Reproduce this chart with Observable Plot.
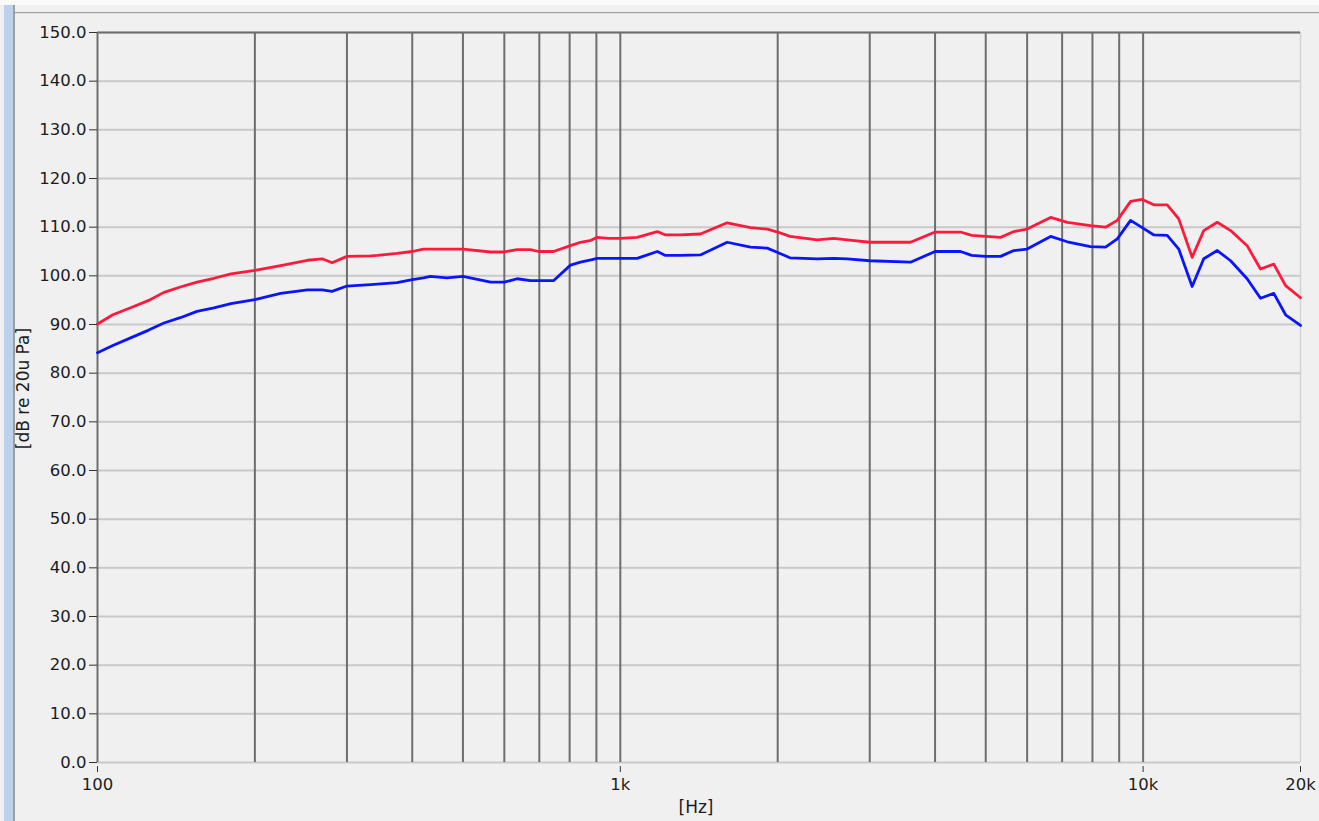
<!DOCTYPE html>
<html>
<head>
<meta charset="utf-8">
<script src="https://cdn.jsdelivr.net/npm/d3@7"></script>
<script src="https://cdn.jsdelivr.net/npm/@observablehq/plot@0.6"></script>
<style>
  html, body { margin: 0; padding: 0; background: #f0f0f0; overflow: hidden; }
  #wrap { position: relative; width: 1319px; height: 821px; }
  #topstrip { position: absolute; left: 0; top: 0; width: 1319px; height: 5px; background: #f9f9f9; }
  #topline { position: absolute; left: 14px; top: 12px; width: 1305px; height: 1px; background: #a3a3a3; border-bottom: 1px solid #dedede; }
  #leftstrip { position: absolute; left: 4px; top: 5px; width: 9px; height: 816px; background: #bcd2ec; }
  #leftline { position: absolute; left: 13px; top: 5px; width: 2px; height: 816px; background: #9e9e9e; }
  #chart { position: absolute; left: 0; top: 0; }
</style>
</head>
<body>
<div id="wrap">
  <div id="topstrip"></div>
  <div id="topline"></div>
  <div id="leftstrip"></div>
  <div id="leftline"></div>
  <div id="chart"></div>
</div>
<script>
// Frequencies (Hz) at which the two curves were read
const freq = [100, 107, 116, 125, 134, 144, 155, 167, 180, 200, 224, 252, 269, 281, 300, 333, 343, 374, 400, 420, 433, 466, 500, 565, 600, 635, 673, 698, 745, 803, 839, 879, 903, 950, 1000, 1077, 1177, 1220, 1300, 1423, 1601, 1774, 1910, 2000, 2111, 2381, 2560, 2716, 3000, 3590, 4000, 4474, 4700, 5000, 5338, 5659, 6000, 6653, 7160, 7930, 8474, 8925, 9463, 9960, 10484, 11120, 11700, 12410, 13060, 13860, 14700, 15810, 16770, 17780, 18730, 20000];

// Red curve (dB re 20u Pa)
const redLevel = [90.1, 92.0, 93.5, 94.9, 96.6, 97.7, 98.7, 99.5, 100.4, 101.1, 102.1, 103.2, 103.5, 102.7, 104.0, 104.1, 104.2, 104.6, 105.0, 105.5, 105.5, 105.5, 105.5, 104.9, 104.9, 105.4, 105.4, 105.0, 105.0, 106.2, 106.9, 107.3, 107.9, 107.7, 107.7, 107.9, 109.1, 108.4, 108.4, 108.6, 110.9, 109.9, 109.6, 109.0, 108.1, 107.4, 107.7, 107.4, 106.9, 106.9, 109.0, 109.0, 108.3, 108.1, 107.9, 109.1, 109.6, 112.0, 111.0, 110.3, 110.0, 111.4, 115.3, 115.7, 114.6, 114.6, 111.7, 103.8, 109.3, 111.0, 109.3, 106.2, 101.4, 102.4, 98.0, 95.5];

// Blue curve (dB re 20u Pa)
const blueLevel = [84.2, 85.7, 87.3, 88.8, 90.3, 91.4, 92.7, 93.4, 94.3, 95.1, 96.4, 97.1, 97.1, 96.8, 97.9, 98.2, 98.3, 98.6, 99.2, 99.6, 99.9, 99.6, 99.9, 98.7, 98.7, 99.4, 99.0, 99.0, 99.0, 102.2, 102.8, 103.3, 103.6, 103.6, 103.6, 103.6, 105.0, 104.2, 104.2, 104.3, 106.9, 105.9, 105.7, 104.8, 103.7, 103.5, 103.6, 103.5, 103.1, 102.8, 105.0, 105.0, 104.2, 104.0, 104.0, 105.2, 105.5, 108.1, 107.0, 106.0, 105.9, 107.6, 111.4, 109.9, 108.4, 108.3, 105.5, 97.8, 103.5, 105.2, 103.1, 99.4, 95.4, 96.4, 92.0, 89.8];

// Axis ticks and grid
const yTicks = [0, 10, 20, 30, 40, 50, 60, 70, 80, 90, 100, 110, 120, 130, 140, 150];
const xTicks = [100, 1000, 10000, 20000];
const xTickLabels = ["100", "1k", "10k", "20k"];
const xGrid = [200, 300, 400, 500, 600, 700, 800, 900, 1000, 2000, 3000, 4000, 5000, 6000, 7000, 8000, 9000, 10000];
const yLabel = "[dB re 20u Pa]";
const xLabel = "[Hz]";

const redData = freq.map((f, i) => ({f, v: redLevel[i]}));
const blueData = freq.map((f, i) => ({f, v: blueLevel[i]}));

const chart = Plot.plot({
  width: 1319,
  height: 821,
  marginLeft: 97,
  marginRight: 19,
  marginTop: 32,
  marginBottom: 59,
  style: {background: "transparent", fontFamily: "'DejaVu Sans', Tahoma, sans-serif", fontSize: "16.5px", color: "#1c1c1c"},
  x: {type: "log", domain: [100, 20000]},
  y: {domain: [0, 150]},
  marks: [
    Plot.ruleY(yTicks, {stroke: "#c9c9c9", strokeWidth: 2}),
    Plot.ruleX([20000], {stroke: "#d2d2d2", strokeWidth: 1.5}),
    Plot.ruleX(xGrid, {stroke: "#6e6e6e", strokeWidth: 2}),
    Plot.ruleY([150], {stroke: "#6e6e6e", strokeWidth: 2}),
    Plot.ruleX([100], {stroke: "#6e6e6e", strokeWidth: 2}),
    Plot.line(blueData, {x: "f", y: "v", stroke: "#0a14ff", strokeWidth: 2.8}),
    Plot.line(redData, {x: "f", y: "v", stroke: "#ff1a3d", strokeWidth: 2.8}),
    Plot.axisY({ticks: yTicks, tickFormat: d => d.toFixed(1), tickSize: 8, tickPadding: 3, label: null, stroke: "#333"}),
    Plot.axisX({ticks: xTicks, tickFormat: d => xTickLabels[xTicks.indexOf(d)], tickSize: 6, tickPadding: 6, dy: 4, label: null, stroke: "#333"}),
    Plot.text([yLabel], {frameAnchor: "left", textAnchor: "middle", rotate: -90, dx: -74, dy: -9, text: d => d, fill: "#1c1c1c", fontSize: 17}),
    Plot.text([xLabel], {frameAnchor: "bottom", textAnchor: "middle", dy: 50, dx: -3, text: d => d, fill: "#1c1c1c", fontSize: 17})
  ]
});
document.getElementById("chart").appendChild(chart);
</script>
</body>
</html>
